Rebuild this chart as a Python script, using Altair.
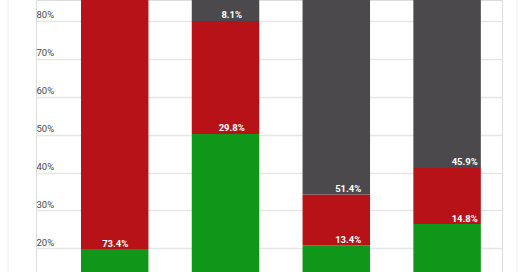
import altair as alt
import pandas as pd

categories = ["Group A", "Group B", "Group C", "Group D"]
series = ["Green", "Red", "Gray"]
green_vals = [19.8, 50.2, 20.8, 26.4]
red_vals = [73.4, 29.8, 13.4, 14.8]
gray_vals = [6.8, 8.1, 51.4, 45.9]
colors = ["#109618", "#B71217", "#4B494C"]
y_ticks = [20, 30, 40, 50, 60, 70, 80]

rows = []
for si, (s, vals) in enumerate(zip(series, [green_vals, red_vals, gray_vals])):
    for c, v in zip(categories, vals):
        rows.append({"cat": c, "series": s, "order": si, "value": v})
df = pd.DataFrame(rows)

x_enc = alt.X("cat:N", sort=categories, axis=None,
              scale=alt.Scale(paddingInner=0.391, paddingOuter=0.2985, align=0.68))
y_scale = alt.Scale(domain=[13.74, 85.54], nice=False, zero=False)

base = alt.Chart(df).transform_stack(
    stack="value", groupby=["cat"], as_=["y0", "y1"],
    sort=[alt.SortField("order", order="ascending")]
).transform_calculate(label="format(datum.value, '.1f') + '%'")

bars = base.mark_bar(clip=True).encode(
    x=x_enc,
    y=alt.Y("y0:Q", scale=y_scale,
            axis=alt.Axis(values=y_ticks, format=".0f", labelExpr="datum.label + '%'",
                          title=None, domain=False, ticks=False, tickSize=0,
                          labelAlign="left", labelBaseline="alphabetic",
                          labelPadding=0, labelOffset=-3, labelFontSize=9.5,
                          labelColor="#4a4a4a", labelFont="Roboto",
                          grid=True, gridColor="#e6e6e6", gridWidth=1.5)),
    y2="y1:Q",
    color=alt.Color("series:N", scale=alt.Scale(domain=series, range=colors), legend=None),
)

labels = base.transform_filter(
    (alt.datum.y0 >= 13.74) & (alt.datum.y0 <= 85.54)
).mark_text(clip=True, color="white", font="Roboto", fontWeight="bold",
            fontSize=9.5, baseline="alphabetic", dy=-2.5).encode(
    x=x_enc,
    y=alt.Y("y0:Q", scale=y_scale),
    text="label:N",
)

border = alt.Chart(pd.DataFrame({"pos": [-28, 481]})).mark_rule(
    color="#eceef5", strokeWidth=1).encode(
    x=alt.X("pos:Q", scale=alt.Scale(domain=[0, 466], range=[0, 466]), axis=None),
    y=alt.value(0), y2=alt.value(272))

chart = alt.layer(bars, labels, border).resolve_scale(x="independent").properties(
    width=466, height=272,
    autosize=alt.AutoSizeParams(type="none"),
    padding={"left": 36, "right": 18, "top": 0, "bottom": 0},
).configure_view(stroke=None).configure(background="white")

chart.save("out.html", embed_options={"renderer": "svg", "actions": False})
